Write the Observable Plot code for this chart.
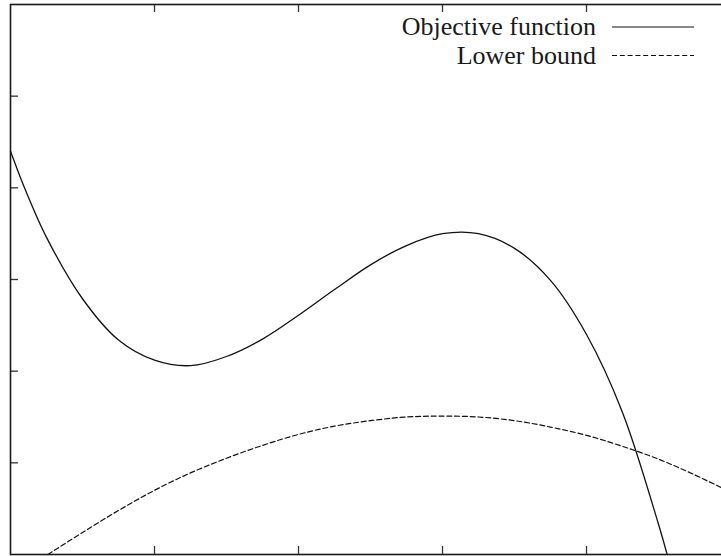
<!DOCTYPE html>
<html>
<head>
<meta charset="utf-8">
<script src="https://cdn.jsdelivr.net/npm/d3@7"></script>
<script src="https://cdn.jsdelivr.net/npm/@observablehq/plot@0.6"></script>
<style>
  html, body { margin: 0; padding: 0; background: #fff; overflow: hidden; }
  #chart svg { display: block; }
</style>
</head>
<body>
<div id="chart"></div>
<script>
// Tick positions (no tick labels are drawn)
const xTicks = [1, 2, 3, 4];
const yTicks = [1, 2, 3, 4, 5];

// Objective function samples
const objX = [0, 0.05, 0.1, 0.25, 0.5, 0.75, 1.0, 1.25, 1.5, 1.75, 2.0, 2.25, 2.5, 2.75, 3.0, 3.25, 3.5, 3.75, 4.0, 4.25, 4.5, 4.56];
const objY = [4.40, 4.19, 3.99, 3.46, 2.79, 2.34, 2.12, 2.06, 2.16, 2.35, 2.61, 2.89, 3.16, 3.37, 3.50, 3.50, 3.34, 2.99, 2.40, 1.55, 0.33, 0.0];

// Lower bound samples
const lowX = [0.26, 0.5, 0.75, 1.0, 1.25, 1.5, 1.75, 2.0, 2.25, 2.5, 2.75, 3.0, 3.25, 3.5, 3.75, 4.0, 4.25, 4.5, 4.75, 5.0];
const lowY = [0.0, 0.24, 0.48, 0.70, 0.89, 1.05, 1.19, 1.31, 1.40, 1.46, 1.50, 1.51, 1.50, 1.46, 1.39, 1.30, 1.18, 1.04, 0.87, 0.68];

// Key entries
const seriesNames = ["Objective function", "Lower bound"];
const seriesDash = [null, "5,2.8"];

const FONT = "'Liberation Serif', 'Times New Roman', serif";
const INK = "#111";

const objective = objX.map((x, i) => ({x, y: objY[i]}));
const lowerBound = lowX.map((x, i) => ({x, y: lowY[i]}));

// Key drawn inside the top-right corner of the frame
function key(index, scales, values, dimensions) {
  const {width, marginTop} = dimensions;
  const g = d3.create("svg:g")
    .attr("font-family", FONT)
    .attr("font-size", 26);
  seriesNames.forEach((name, i) => {
    const y = marginTop + 23 + i * 28.5;
    g.append("text")
      .attr("x", width - 125)
      .attr("y", y + 8)
      .attr("text-anchor", "end")
      .attr("fill", "#1a1a1a")
      .text(name);
    g.append("line")
      .attr("x1", width - 109)
      .attr("x2", width - 27)
      .attr("y1", y)
      .attr("y2", y)
      .attr("stroke", INK)
      .attr("stroke-width", 1.2)
      .attr("stroke-dasharray", seriesDash[i]);
  });
  return g.node();
}

const chart = Plot.plot({
  width: 721,
  height: 556,
  marginLeft: 10,
  marginRight: -9,
  marginTop: 4,
  marginBottom: 2,
  style: {fontFamily: FONT, background: "#fff"},
  x: {domain: [0, 5], axis: null},
  y: {domain: [0, 6], axis: null},
  marks: [
    // inward ticks: bottom, top, left
    Plot.tickX(xTicks, {x: d => d, insetTop: 542, stroke: "#333", strokeWidth: 1.3}),
    Plot.tickX(xTicks, {x: d => d, insetBottom: 542, stroke: "#333", strokeWidth: 1.3}),
    Plot.tickY(yTicks, {y: d => d, insetRight: 712, stroke: "#333", strokeWidth: 1.3}),
    Plot.line(objective, {x: "x", y: "y", curve: "catmull-rom", stroke: INK, strokeWidth: 1.3}),
    Plot.line(lowerBound, {x: "x", y: "y", curve: "catmull-rom", stroke: INK, strokeWidth: 1.2, strokeDasharray: "5,2.8"}),
    Plot.frame({stroke: "#1a1a1a", strokeWidth: 1.6}),
    key
  ]
});

document.getElementById("chart").append(chart);
</script>
</body>
</html>
